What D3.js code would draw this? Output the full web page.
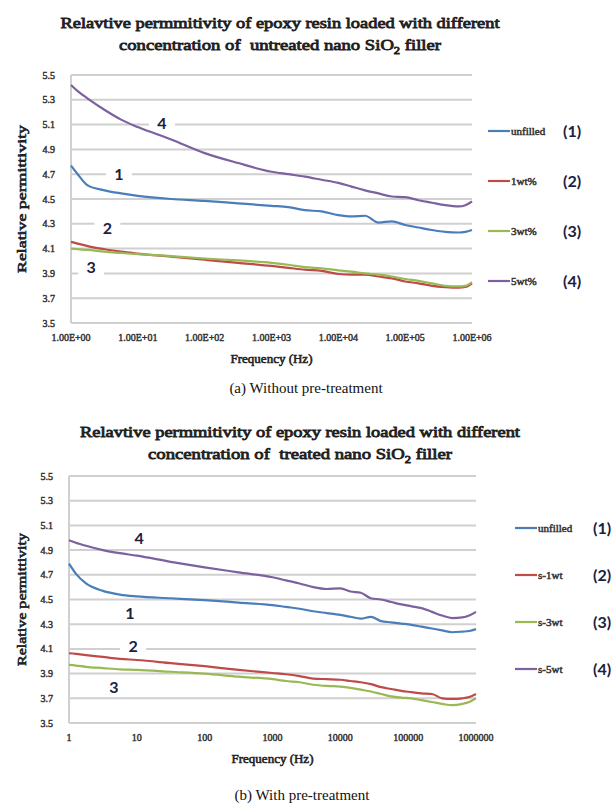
<!DOCTYPE html>
<html lang="en">
<head>
<meta charset="UTF-8">
<title>Relative permittivity of epoxy / nano SiO2</title>
<script src="https://d3js.org/d3.v7.min.js"></script>
<style>
  body { margin: 0; background: #fff; }
</style>
</head>
<body>
<svg id="chart" width="615" height="810"></svg>
<script>
// ---------- data (a) without pre-treatment ----------
const freqA = [1, 1.26, 1.78, 3.16, 5.62, 10, 31.6, 100, 316, 1000, 1780, 3160, 5620, 10000,
               15800, 25100, 39800, 63100, 100000, 158000, 251000, 398000, 631000, 794000, 1000000];
const unfilledA = [4.77, 4.70, 4.61, 4.57, 4.545, 4.525, 4.50, 4.485, 4.465, 4.445, 4.435, 4.41, 4.40, 4.37,
                   4.36, 4.365, 4.31, 4.32, 4.29, 4.27, 4.25, 4.235, 4.23, 4.235, 4.25];
const wt1A = [4.155, 4.14, 4.12, 4.095, 4.075, 4.06, 4.035, 4.01, 3.985, 3.96, 3.945, 3.93, 3.92, 3.895,
              3.89, 3.89, 3.875, 3.86, 3.835, 3.82, 3.80, 3.79, 3.785, 3.79, 3.82];
const wt3A = [4.10, 4.095, 4.09, 4.075, 4.065, 4.055, 4.04, 4.02, 4.005, 3.985, 3.97, 3.95, 3.94, 3.925,
              3.915, 3.90, 3.89, 3.875, 3.855, 3.84, 3.82, 3.80, 3.795, 3.80, 3.83];
const wt5A = [5.42, 5.37, 5.31, 5.22, 5.14, 5.08, 4.98, 4.87, 4.79, 4.72, 4.70, 4.68, 4.655, 4.63,
              4.60, 4.57, 4.545, 4.52, 4.515, 4.49, 4.47, 4.45, 4.44, 4.45, 4.48];
const legendA = ["unfilled", "1wt%", "3wt%", "5wt%"];
const xTicksA = ["1.00E+00", "1.00E+01", "1.00E+02", "1.00E+03", "1.00E+04", "1.00E+05", "1.00E+06"];

// ---------- data (b) with pre-treatment ----------
const freqB = [1, 1.26, 1.78, 3.16, 5.62, 10, 31.6, 100, 316, 1000, 1580, 2510, 3980, 6310, 10000,
               14100, 20000, 28200, 39800, 56200, 79400, 112000, 158000, 224000, 316000, 447000,
               631000, 794000, 1000000];
const unfilledB = [4.79, 4.71, 4.63, 4.57, 4.54, 4.525, 4.51, 4.495, 4.475, 4.455, 4.44, 4.425, 4.405, 4.39,
                   4.375, 4.36, 4.345, 4.36, 4.325, 4.315, 4.305, 4.295, 4.28, 4.265, 4.25, 4.235,
                   4.24, 4.245, 4.26];
const s1B = [4.065, 4.06, 4.05, 4.035, 4.02, 4.01, 3.985, 3.96, 3.93, 3.905, 3.895, 3.88, 3.86, 3.855,
             3.85, 3.84, 3.83, 3.815, 3.79, 3.775, 3.76, 3.75, 3.74, 3.735, 3.70, 3.695, 3.70, 3.71, 3.735];
const s3B = [3.97, 3.965, 3.955, 3.945, 3.935, 3.93, 3.915, 3.90, 3.875, 3.855, 3.84, 3.83, 3.81, 3.80,
             3.795, 3.785, 3.77, 3.755, 3.735, 3.715, 3.705, 3.70, 3.685, 3.67, 3.655, 3.645, 3.655, 3.67, 3.70];
const s5B = [4.98, 4.96, 4.935, 4.90, 4.875, 4.855, 4.805, 4.76, 4.72, 4.68, 4.655, 4.63, 4.60, 4.585,
             4.59, 4.565, 4.555, 4.51, 4.50, 4.48, 4.46, 4.445, 4.43, 4.40, 4.37, 4.35, 4.355, 4.37, 4.40];
const legendB = ["unfilled", "s-1wt", "s-3wt", "s-5wt"];
const xTicksB = ["1", "10", "100", "1000", "10000", "100000", "1000000"];

const yTicks = ["3.5", "3.7", "3.9", "4.1", "4.3", "4.5", "4.7", "4.9", "5.1", "5.3", "5.5"];
const colors = ["#4a7ebb", "#be4b48", "#98b954", "#7d60a0"];

// number labels on the curves: [label, frequency, value]
const curveLabelsA = [["4", 23, 5.11], ["1", 5.2, 4.70], ["2", 3.5, 4.27], ["3", 2.0, 3.95]];
const curveLabelsB = [["4", 10.8, 5.0], ["1", 7.9, 4.39], ["2", 8.8, 4.12], ["3", 4.6, 3.79]];

const SERIF = "'Liberation Serif', 'Times New Roman', Tinos, serif";
const SANS = "Lato, 'Open Sans', sans-serif";

const svg = d3.select("#chart");

// bold-looking serif text: regular face plus a thin outline
function serif(sel, size, color, weight) {
  return sel.attr("font-family", SERIF).attr("font-size", size)
    .attr("fill", color).attr("stroke", weight ? color : "none")
    .attr("stroke-width", weight || 0);
}

function drawPanel(opt) {
  const g = svg.append("g");
  const x = d3.scaleLog().domain([1, 1e6]).range([opt.left, opt.right]);
  const y = d3.scaleLinear().domain([3.5, 5.5]).range([opt.bottom, opt.top]);

  // title
  opt.title.forEach((t, i) => {
    const txt = serif(g.append("text"), 15, "#1e1e1e", 0.8)
      .attr("x", opt.titleX).attr("y", opt.titleY + i * 22)
      .attr("text-anchor", "middle")
      .style("white-space", "pre")
      .attr("textLength", opt.titleLen[i]).attr("lengthAdjust", "spacingAndGlyphs");
    if (t.includes("SiO2")) {
      const parts = t.split("SiO2");
      txt.append("tspan").text(parts[0] + "SiO");
      txt.append("tspan").attr("font-size", 10).attr("dy", 4).text("2");
      txt.append("tspan").attr("dy", -4).text(parts[1]);
    } else {
      txt.text(t);
    }
  });

  // gridlines
  g.append("g").selectAll("line").data(yTicks).enter().append("line")
    .attr("x1", opt.left).attr("x2", opt.right)
    .attr("y1", d => y(+d)).attr("y2", d => y(+d))
    .attr("stroke", "#d0d0d0").attr("stroke-width", 2);
  g.append("line")
    .attr("x1", opt.left).attr("x2", opt.left)
    .attr("y1", opt.top).attr("y2", opt.bottom)
    .attr("stroke", "#d0d0d0").attr("stroke-width", 2);

  // y tick labels
  serif(g.append("g").selectAll("text").data(yTicks).enter().append("text"), 10, "#333", 0.45)
    .attr("x", opt.left - 16).attr("y", d => y(+d) + 3.5)
    .attr("text-anchor", "end")
    .text(d => d);

  // x tick labels
  serif(g.append("g").selectAll("text").data(opt.xTicks).enter().append("text"), 10, "#333", 0.45)
    .attr("x", (d, i) => x(Math.pow(10, i))).attr("y", opt.bottom + 18)
    .attr("text-anchor", "middle")
    .text(d => d);

  // axis titles
  serif(g.append("text"), 13, "#222", 0.6)
    .attr("x", (opt.left + opt.right) / 2).attr("y", opt.bottom + 40)
    .attr("text-anchor", "middle").text("Frequency (Hz)");
  serif(g.append("text"), 12.5, "#222", 0.6)
    .attr("transform", `translate(${opt.yTitleX},${(opt.top + opt.bottom) / 2}) rotate(-90)`)
    .attr("text-anchor", "middle")
    .attr("textLength", opt.yTitleLen).attr("lengthAdjust", "spacingAndGlyphs")
    .text("Relative permittivity");

  // curve number labels (white boxes break the gridlines)
  opt.curveLabels.forEach(([n, f, v]) => {
    g.append("rect")
      .attr("x", x(f) - 13).attr("y", y(v) - 8)
      .attr("width", 26).attr("height", 16).attr("fill", "#fff");
    g.append("text")
      .attr("font-family", SANS).attr("font-weight", "bold").attr("font-size", 16)
      .attr("fill", "#1c2140")
      .attr("x", x(f)).attr("y", y(v) + 6)
      .attr("text-anchor", "middle").text(n);
  });

  // series
  const line = d3.line().x(d => x(d[0])).y(d => y(d[1])).curve(d3.curveMonotoneX);
  opt.series.forEach((vals, i) => {
    g.append("path")
      .datum(opt.freq.map((f, k) => [f, vals[k]]))
      .attr("fill", "none").attr("stroke", colors[i]).attr("stroke-width", 2.2)
      .attr("stroke-linejoin", "round")
      .attr("d", line);
  });

  // legend
  opt.legend.forEach((name, i) => {
    const ly = opt.legendY + i * opt.legendStep;
    g.append("line")
      .attr("x1", opt.legendX).attr("x2", opt.legendX + 22)
      .attr("y1", ly).attr("y2", ly)
      .attr("stroke", colors[i]).attr("stroke-width", 2.2);
    serif(g.append("text"), 11, "#333", 0.5)
      .attr("x", opt.legendX + 23).attr("y", ly + 3.5).text(name);
    g.append("text")
      .attr("font-family", SANS).attr("font-weight", "bold").attr("font-size", 16)
      .attr("fill", "#1c2140")
      .attr("x", opt.numX).attr("y", ly + 6).text(`(${i + 1})`);
  });

  // caption
  serif(svg.append("text"), 15, "#111", 0)
    .attr("x", opt.captionX).attr("y", opt.captionY)
    .attr("text-anchor", "middle").text(opt.caption);
}

drawPanel({
  left: 71, right: 472, top: 75, bottom: 323,
  title: ["Relavtive permmitivity of epoxy resin loaded with different",
          "concentration of  untreated nano SiO2 filler"],
  titleX: 280, titleY: 28, titleLen: [439, 322],
  xTicks: xTicksA, yTitleX: 26, yTitleLen: 148,
  freq: freqA, series: [unfilledA, wt1A, wt3A, wt5A],
  curveLabels: curveLabelsA,
  legend: legendA, legendX: 488, legendY: 131, legendStep: 50, numX: 563,
  caption: "(a) Without pre-treatment", captionX: 306, captionY: 393
});

drawPanel({
  left: 69, right: 476, top: 476, bottom: 723,
  title: ["Relavtive permmitivity of epoxy resin loaded with different",
          "concentration of  treated nano SiO2 filler"],
  titleX: 300, titleY: 437, titleLen: [440, 304],
  xTicks: xTicksB, yTitleX: 26, yTitleLen: 133,
  freq: freqB, series: [unfilledB, s1B, s3B, s5B],
  curveLabels: curveLabelsB,
  legend: legendB, legendX: 515, legendY: 528, legendStep: 47, numX: 593,
  caption: "(b) With pre-treatment", captionX: 302, captionY: 800
});
</script>
</body>
</html>
